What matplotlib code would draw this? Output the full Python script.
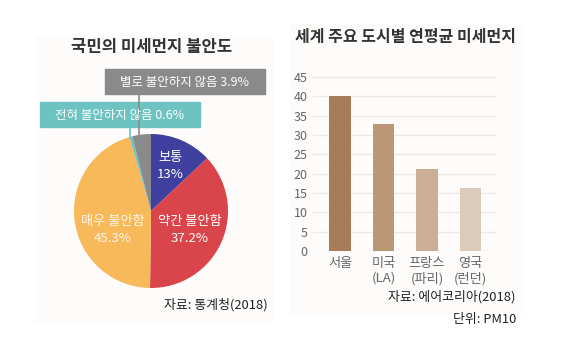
import numpy as np
import matplotlib
matplotlib.use('Agg')
import matplotlib.pyplot as plt
from matplotlib.patches import Rectangle

plt.rcParams['font.family'] = ['Noto Sans CJK KR', 'DejaVu Sans']

# pie data (clockwise from 12 o'clock)
pie_labels = ['보통', '약간 불안함', '매우 불안함', '전혀 불안하지 않음', '별로 불안하지 않음']
pie_values = [13, 37.2, 45.3, 0.6, 3.9]
pie_colors = ['#3F3FA0', '#D9454B', '#F8B95B', '#6DC2C2', '#8A8A8A']

# bar data
cities = ['서울', '미국\n(LA)', '프랑스\n(파리)', '영국\n(런던)']
pm10 = [40, 32.8, 21.2, 16.3]
bar_colors = ['#A67D58', '#B99777', '#CAAF96', '#DDCBBA']
yticks = list(range(0, 50, 5))

W, H = 564, 354


def fx(x):
    return x / W


def fy(y):
    return 1 - y / H


fig = plt.figure(figsize=(W / 100, H / 100), dpi=100)
fig.patch.set_facecolor('white')

# very light panel backgrounds
fig.add_artist(Rectangle((fx(36), fy(322)), fx(236), 286 / H,
                         transform=fig.transFigure, color='#FDFCFB', zorder=0))
fig.add_artist(Rectangle((fx(290), fy(313)), fx(232), 289 / H,
                         transform=fig.transFigure, color='#FDFCFB', zorder=0))

# ---- pie ----
cx, cy, r = 151, 211, 77
axp = fig.add_axes([fx(cx - r), fy(cy + r), 2 * r / W, 2 * r / H])
wedges, _ = axp.pie(pie_values, colors=pie_colors, startangle=90,
                    counterclock=False, radius=1)
axp.set_xlim(-1, 1)
axp.set_ylim(-1, 1)
axp.set_aspect('auto')

inner = [(0, 170, 157), (1, 190, 222), (2, 113, 222)]
for i, tx, ty in inner:
    col = 'white' if i != 2 else '#FFF6E8'
    fig.text(fx(tx), fy(ty), pie_labels[i], color=col, fontsize=9.5,
             ha='center', va='center')
    fig.text(fx(tx), fy(ty + 17), '%g%%' % pie_values[i], color=col,
             fontsize=9.5, ha='center', va='center')

# small slice boxes with leader lines
boxes = [(4, 105, 69, 160, 25, 139), (3, 40, 102, 160, 25, 130)]
for i, bx, by, bw, bh, lx in boxes:
    w = wedges[i]
    mid = np.deg2rad((w.theta1 + w.theta2) / 2)
    ey = cy - r * np.sin(mid)
    fig.add_artist(plt.Line2D([fx(lx), fx(lx)], [fy(by + bh), fy(ey + 1)],
                              transform=fig.transFigure, color=pie_colors[i],
                              lw=1.2))
    fig.add_artist(Rectangle((fx(bx), fy(by + bh)), bw / W, bh / H,
                             transform=fig.transFigure, color=pie_colors[i]))
    fig.text(fx(bx + bw / 2), fy(by + bh / 2 + 1),
             '%s %g%%' % (pie_labels[i], pie_values[i]),
             color='white', fontsize=9, ha='center', va='center')

fig.text(fx(152), fy(47), '국민의 미세먼지 불안도', fontsize=12,
         fontweight='bold', color='#333333', ha='center', va='center')
fig.text(fx(268), fy(305), '자료: 통계청(2018)', fontsize=9.3,
         color='#222222', ha='right', va='center')

# ---- bars ----
y0, y45 = 251, 77
per = (y0 - y45) / 45
top = 46
axb = fig.add_axes([fx(313), fy(y0), (497 - 313) / W, top * per / H])
x = np.arange(len(cities))
axb.bar(x, pm10, width=0.5, color=bar_colors, zorder=3)
axb.set_xlim(-0.62, 3.61)
axb.set_ylim(0, top)
axb.set_yticks(yticks)
axb.set_yticklabels([str(t) for t in yticks])
axb.set_xticks(x)
axb.set_xticklabels(cities, linespacing=1.2)
axb.grid(axis='y', color='#EDE8E5', lw=1, zorder=0)
axb.set_facecolor('none')
for s in axb.spines.values():
    s.set_visible(False)
axb.tick_params(axis='both', length=0, colors='#666666', labelsize=9.5)
axb.tick_params(axis='y', pad=4, labelsize=9)
axb.tick_params(axis='x', pad=4)

fig.text(fx(295), fy(37), '세계 주요 도시별 연평균 미세먼지', fontsize=11.5,
         fontweight='bold', color='#333333', ha='left', va='center')
fig.text(fx(516), fy(297), '자료: 에어코리아(2018)', fontsize=9.3,
         color='#222222', ha='right', va='center')
fig.text(fx(516), fy(319), '단위: PM10', fontsize=9.3,
         color='#222222', ha='right', va='center')

fig.savefig('out.png', dpi=100)
